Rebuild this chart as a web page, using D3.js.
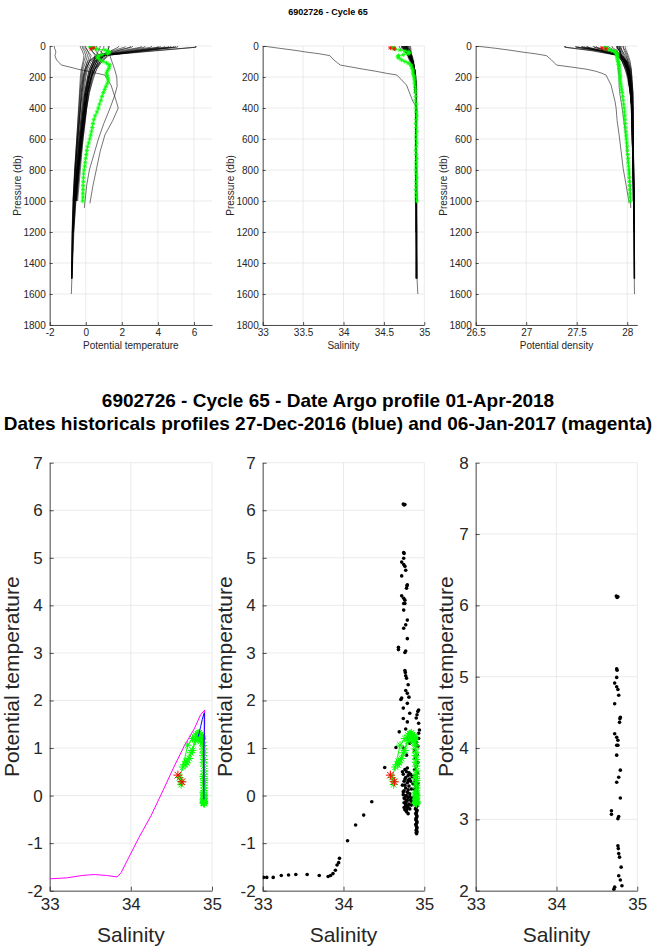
<!DOCTYPE html>
<html><head><meta charset="utf-8">
<script src="https://cdn.jsdelivr.net/npm/d3@7"></script>
<style>body{margin:0;background:#fff} svg{display:block} text{font-family:"Liberation Sans",Arial,Helvetica,sans-serif}</style>
</head><body><svg id="c" width="656" height="950"></svg>
<script>
// ---------------- DATA ----------------
const topTitle = "6902726 - Cycle 65";
const bottomTitle1 = "6902726 - Cycle 65 - Date Argo profile 01-Apr-2018";
const bottomTitle2 = "Dates historicals profiles 27-Dec-2016 (blue) and 06-Jan-2017 (magenta)";

const presTicks = [0,200,400,600,800,1000,1200,1400,1600,1800];
const tempTicksTop = [-2,0,2,4,6];
const salTicksTop = [33,33.5,34,34.5,35];
const densTicks = [26.5,27,27.5,28];
const salTicksBottom = [33,34,35];
const tempTicksBottom = [-2,-1,0,1,2,3,4,5,6,7];
const tempTicksZoom = [2,3,4,5,6,7,8];

// historical profiles (pressure levels shared, each profile truncated at its own depth)
const histLevels = [0, 8, 30, 60, 100, 150, 200, 300, 400, 600, 800, 1000, 1200, 1500, 1600];
const histTemp = [
[6.1, 6.1, 4.0, 1.1, 0.6, 0.4, 0.3, 0.1, 0.0, -0.2, -0.35, -0.5],
[6.12, 6.1, 3.8, 0.9, 0.7, 0.5, 0.35, 0.15, 0.05, -0.15, -0.3, -0.45],
[5.1, 5.08, 3.4, 1.0, 0.5, 0.3, 0.2, 0.0, -0.1, -0.3, -0.45, -0.58, -0.68, -0.78],
[4.9, 4.85, 3.3, 1.2, 0.8, 0.6, 0.4, 0.2, 0.05, -0.2, -0.4, -0.55],
[4.72, 4.7, 3.2, 1.3, 0.9, 0.5, 0.3, 0.1, -0.05, -0.25, -0.42, -0.6, -0.7, -0.77, -0.8],
[4.4, 4.35, 2.9, 0.9, 0.4, 0.2, 0.1, -0.05, -0.15, -0.35, -0.5, -0.62],
[4.15, 4.1, 2.7, 0.8, 0.3, 0.1, 0.0, -0.1, -0.2, -0.38, -0.52, -0.64, -0.72, -0.78],
[4.03, 4.0, 2.6, 1.0, 0.6, 0.4, 0.25, 0.05, -0.05, -0.25, -0.43, -0.58],
[3.68, 3.6, 2.4, 0.7, 0.2, 0.0, -0.1, -0.2, -0.28, -0.42, -0.55, -0.66, -0.73],
[3.1, 3.05, 2.0, 0.6, 0.1, -0.05, -0.15, -0.25, -0.3, -0.45, -0.58, -0.68, -0.74, -0.78],
[2.62, 2.55, 1.8, 1.1, 0.7, 0.5, 0.3, 0.1, -0.05, -0.25, -0.42, -0.56],
[2.22, 2.15, 1.5, 0.9, 0.5, 0.3, 0.15, 0.0, -0.1, -0.3, -0.46, -0.6, -0.7, -0.77],
[1.84, 1.8, 1.4, 1.2, 0.9, 0.6, 0.45, 0.2, 0.05, -0.15, -0.35, -0.5],
[5.0, 4.95, 3.0, 0.7, 0.4, 0.25, 0.15, -0.05, -0.15, -0.33, -0.48, -0.6],
[3.3, 3.25, 2.2, 1.0, 0.5, 0.3, 0.15, 0.0, -0.1, -0.3, -0.47, -0.6, -0.7],
[2.5, 2.45, 1.7, 0.6, 0.2, 0.05, -0.05, -0.15, -0.22, -0.38, -0.52, -0.64],
[4.6, 4.55, 3.0, 1.1, 0.6, 0.35, 0.2, 0.05, -0.05, -0.25, -0.42, -0.57],
[0.0, 0.0, 0.1, 0.3, 0.2, 0.0, -0.1, -0.2, -0.3, -0.45, -0.57, -0.67, -0.73, -0.78],
[-0.15, -0.15, 0.0, 0.1, 0.0, -0.15, -0.2, -0.3, -0.35, -0.48, -0.6, -0.7, -0.75, -0.79],
[0.3, 0.3, 0.35, 0.5, 0.45, 0.3, 0.2, 0.05, -0.05, -0.25, -0.42, -0.56],
[0.5, 0.5, 0.55, 0.7, 0.6, 0.4, 0.3, 0.1, 0.0, -0.2, -0.38, -0.53],
[-0.3, -0.3, -0.2, -0.1, -0.15, -0.25, -0.3, -0.35, -0.4, -0.5, -0.62, -0.71, -0.76, -0.79],
[0.2, 0.2, 0.3, 0.6, 0.8, 0.5, 0.3, 0.1, -0.05, -0.28, -0.45, -0.6],
[1.0, 1.0, 0.9, 0.8, 0.5, 0.3, 0.2, 0.0, -0.1, -0.3, -0.48, -0.62, -0.72],
[-0.05, -0.05, 0.1, 0.2, 0.1, -0.05, -0.15, -0.25, -0.32, -0.45, -0.58, -0.68, -0.74, -0.78],
[0.8, 0.8, 0.7, 0.6, 0.4, 0.2, 0.1, -0.05, -0.15, -0.33, -0.5, -0.63],
[1.3, 1.3, 1.2, 1.0, 0.7, 0.45, 0.3, 0.1, 0.0, -0.2, -0.4, -0.55, -0.68],
[-0.2, -0.2, -0.1, 0.0, -0.1, -0.2, -0.25, -0.32, -0.38, -0.5, -0.61, -0.7],
[0.6, 0.6, 0.8, 1.0, 0.8, 0.5, 0.35, 0.15, 0.02, -0.2, -0.4, -0.55, -0.66, -0.76]
];
const histSal = [
[34.75, 34.75, 34.77, 34.8, 34.83, 34.86, 34.88, 34.89, 34.9, 34.9, 34.9, 34.9],
[34.76, 34.76, 34.78, 34.79, 34.82, 34.85, 34.87, 34.89, 34.9, 34.9, 34.91, 34.91],
[34.74, 34.74, 34.77, 34.8, 34.84, 34.87, 34.88, 34.89, 34.9, 34.9, 34.9, 34.91, 34.91, 34.91],
[34.78, 34.78, 34.79, 34.81, 34.84, 34.86, 34.88, 34.89, 34.9, 34.9, 34.9, 34.9],
[34.77, 34.77, 34.79, 34.81, 34.85, 34.87, 34.88, 34.89, 34.9, 34.9, 34.9, 34.9, 34.91, 34.91, 34.92],
[34.73, 34.73, 34.76, 34.8, 34.84, 34.86, 34.88, 34.89, 34.9, 34.9, 34.9, 34.9],
[34.75, 34.75, 34.77, 34.8, 34.85, 34.87, 34.88, 34.89, 34.9, 34.9, 34.9, 34.9, 34.9, 34.91],
[34.72, 34.72, 34.76, 34.8, 34.84, 34.86, 34.88, 34.89, 34.9, 34.9, 34.9, 34.9],
[34.77, 34.77, 34.79, 34.82, 34.85, 34.87, 34.88, 34.89, 34.9, 34.9, 34.9, 34.9, 34.9],
[34.69, 34.69, 34.74, 34.8, 34.84, 34.87, 34.88, 34.89, 34.9, 34.9, 34.9, 34.9, 34.9, 34.9],
[34.78, 34.78, 34.8, 34.82, 34.85, 34.87, 34.88, 34.89, 34.9, 34.9, 34.9, 34.9],
[34.79, 34.79, 34.8, 34.83, 34.86, 34.88, 34.89, 34.9, 34.9, 34.9, 34.9, 34.9, 34.9, 34.9],
[34.8, 34.8, 34.82, 34.84, 34.86, 34.88, 34.89, 34.9, 34.9, 34.9, 34.9, 34.9],
[34.74, 34.74, 34.77, 34.8, 34.84, 34.87, 34.88, 34.89, 34.9, 34.9, 34.9, 34.9],
[34.76, 34.76, 34.78, 34.81, 34.85, 34.87, 34.88, 34.89, 34.9, 34.9, 34.9, 34.9, 34.9],
[34.77, 34.77, 34.79, 34.82, 34.86, 34.88, 34.89, 34.9, 34.9, 34.9, 34.9, 34.9],
[34.72, 34.72, 34.76, 34.8, 34.84, 34.87, 34.88, 34.89, 34.9, 34.9, 34.9, 34.9],
[34.76, 34.76, 34.78, 34.82, 34.85, 34.87, 34.88, 34.89, 34.9, 34.9, 34.9, 34.9, 34.9, 34.91],
[34.78, 34.78, 34.8, 34.83, 34.86, 34.88, 34.89, 34.9, 34.9, 34.9, 34.9, 34.9, 34.9, 34.9],
[34.73, 34.73, 34.76, 34.8, 34.84, 34.87, 34.88, 34.89, 34.9, 34.9, 34.9, 34.9],
[34.75, 34.75, 34.77, 34.81, 34.85, 34.87, 34.88, 34.89, 34.9, 34.9, 34.9, 34.9],
[34.8, 34.8, 34.82, 34.85, 34.87, 34.88, 34.89, 34.9, 34.9, 34.9, 34.9, 34.9, 34.9, 34.9],
[34.74, 34.74, 34.77, 34.8, 34.84, 34.86, 34.88, 34.89, 34.9, 34.9, 34.9, 34.9],
[34.81, 34.81, 34.82, 34.84, 34.86, 34.88, 34.89, 34.9, 34.9, 34.9, 34.9, 34.9, 34.9],
[34.77, 34.77, 34.79, 34.83, 34.86, 34.88, 34.89, 34.9, 34.9, 34.9, 34.9, 34.9, 34.9, 34.9],
[34.79, 34.79, 34.8, 34.82, 34.85, 34.87, 34.88, 34.89, 34.9, 34.9, 34.9, 34.9],
[34.82, 34.82, 34.83, 34.84, 34.86, 34.88, 34.89, 34.9, 34.9, 34.9, 34.9, 34.9, 34.9],
[34.79, 34.79, 34.81, 34.84, 34.86, 34.88, 34.89, 34.9, 34.9, 34.9, 34.9, 34.9],
[34.77, 34.77, 34.8, 34.83, 34.86, 34.88, 34.89, 34.9, 34.9, 34.9, 34.9, 34.9, 34.9, 34.9]
];
const histDens = [
[27.38, 27.38, 27.64, 27.90, 27.96, 27.99, 28.01, 28.03, 28.045, 28.05, 28.055, 28.06],
[27.39, 27.39, 27.67, 27.91, 27.95, 27.98, 28.00, 28.03, 28.04, 28.05, 28.06, 28.07],
[27.49, 27.49, 27.70, 27.91, 27.97, 28.01, 28.02, 28.04, 28.05, 28.055, 28.06, 28.065, 28.065, 28.07],
[27.55, 27.55, 27.72, 27.90, 27.95, 27.98, 28.01, 28.03, 28.04, 28.05, 28.06, 28.06],
[27.56, 27.56, 27.73, 27.90, 27.96, 28.00, 28.01, 28.03, 28.047, 28.053, 28.06, 28.065, 28.07, 28.07, 28.072],
[27.57, 27.58, 27.74, 27.92, 27.98, 28.00, 28.02, 28.04, 28.05, 28.057, 28.06, 28.065],
[27.61, 27.61, 27.76, 27.92, 27.99, 28.02, 28.03, 28.04, 28.05, 28.058, 28.062, 28.066, 28.07, 28.072],
[27.60, 27.60, 27.76, 27.91, 27.97, 27.99, 28.02, 28.035, 28.047, 28.053, 28.06, 28.064],
[27.67, 27.68, 27.80, 27.95, 28.00, 28.02, 28.03, 28.04, 28.055, 28.06, 28.063, 28.066, 28.07],
[27.66, 27.67, 27.79, 27.94, 27.99, 28.02, 28.035, 28.045, 28.055, 28.06, 28.064, 28.068, 28.07, 28.072],
[27.78, 27.78, 27.86, 27.92, 27.97, 28.00, 28.01, 28.03, 28.047, 28.053, 28.06, 28.063],
[27.81, 27.82, 27.88, 27.94, 27.99, 28.01, 28.03, 28.045, 28.05, 28.055, 28.06, 28.065, 28.07, 28.07],
[27.85, 27.85, 27.90, 27.93, 27.96, 28.00, 28.015, 28.035, 28.043, 28.05, 28.057, 28.06],
[27.50, 27.50, 27.74, 27.94, 27.99, 28.01, 28.03, 28.04, 28.05, 28.057, 28.061, 28.065],
[27.69, 27.70, 27.80, 27.92, 27.98, 28.01, 28.03, 28.04, 28.05, 28.055, 28.06, 28.065, 28.07],
[27.78, 27.78, 27.86, 27.95, 28.00, 28.03, 28.04, 28.05, 28.05, 28.058, 28.062, 28.066],
[27.51, 27.52, 27.72, 27.91, 27.97, 28.00, 28.02, 28.035, 28.047, 28.053, 28.06, 28.063],
[27.93, 27.93, 27.95, 27.97, 28.00, 28.02, 28.03, 28.04, 28.055, 28.06, 28.063, 28.067, 28.07, 28.075],
[27.96, 27.96, 27.97, 27.99, 28.01, 28.035, 28.04, 28.055, 28.057, 28.06, 28.065, 28.07, 28.07, 28.072],
[27.90, 27.90, 27.92, 27.94, 27.98, 28.01, 28.02, 28.035, 28.047, 28.053, 28.06, 28.063],
[27.90, 27.90, 27.92, 27.94, 27.98, 28.00, 28.015, 28.03, 28.045, 28.05, 28.058, 28.062],
[27.98, 27.98, 27.99, 28.01, 28.03, 28.04, 28.047, 28.057, 28.06, 28.06, 28.065, 28.07, 28.07, 28.072],
[27.91, 27.91, 27.93, 27.94, 27.95, 27.99, 28.01, 28.03, 28.047, 28.055, 28.06, 28.065],
[27.92, 27.92, 27.93, 27.95, 27.99, 28.01, 28.027, 28.045, 28.05, 28.055, 28.06, 28.065, 28.07],
[27.94, 27.94, 27.95, 27.98, 28.01, 28.03, 28.04, 28.053, 28.056, 28.06, 28.064, 28.068, 28.07, 28.072],
[27.93, 27.93, 27.94, 27.96, 27.99, 28.02, 28.03, 28.045, 28.05, 28.057, 28.062, 28.066],
[27.90, 27.90, 27.92, 27.94, 27.97, 28.00, 28.02, 28.035, 28.045, 28.05, 28.06, 28.064, 28.07],
[27.96, 27.96, 27.98, 28.00, 28.02, 28.04, 28.045, 28.056, 28.058, 28.06, 28.064, 28.07],
[27.92, 27.92, 27.93, 27.94, 27.97, 28.00, 28.02, 28.035, 28.045, 28.05, 28.06, 28.064, 28.068, 28.07]
];

// historical profile 06-Jan-2017 (magenta)
const magentaPres = [0, 15, 28, 40, 50, 62, 90, 123, 136, 150, 163, 176, 187, 252, 359, 400, 480, 574, 680, 790, 900, 1015];
const magentaTemp = [-1.75, -1.73, -1.68, -1.66, -1.68, -1.71, -1.62, -1.35, -0.88, -0.42, 0.12, 0.6, 1.05, 1.4, 1.7, 1.8, 1.5, 1.06, 0.8, 0.6, 0.4, 0.23];
const magentaSal = [33.0, 33.21, 33.4, 33.55, 33.7, 33.83, 33.88, 33.96, 34.1, 34.25, 34.4, 34.53, 34.66, 34.78, 34.86, 34.91, 34.91, 34.9, 34.9, 34.9, 34.9, 34.9];
const magentaDens = [26.5, 26.7, 26.85, 26.97, 27.09, 27.2, 27.25, 27.3, 27.45, 27.6, 27.69, 27.75, 27.79, 27.84, 27.88, 27.89, 27.9, 27.92, 27.94, 27.96, 27.99, 28.02];

// historical profile 27-Dec-2016 (blue)
const bluePres = [0, 50, 100, 150, 200, 260, 320, 400, 500, 600, 700, 800, 900, 1045];
const blueTemp = [1.24, 1.3, 1.45, 1.6, 1.72, 1.74, 1.6, 1.35, 1.0, 0.7, 0.45, 0.2, 0.05, -0.08];
const blueSal = [34.83, 34.84, 34.86, 34.88, 34.9, 34.905, 34.905, 34.905, 34.9, 34.9, 34.9, 34.9, 34.9, 34.9];
const blueDens = [27.90, 27.90, 27.91, 27.91, 27.92, 27.92, 27.93, 27.95, 27.97, 27.99, 28.0, 28.02, 28.03, 28.035];

// Argo profile (green)
const argoPres = [4,10,15,20,26,32,38,44,50,56,62,70,79,90,100,110,120,130,145,160,175,190,205,220,240,260,280,300,325,350,375,400,425,450,475,500,525,550,575,600,625,650,675,700,725,750,775,800,825,850,875,900,925,950,975,1000];
const argoTemp = [0.23,0.3,0.38,0.6,1.06,1.2,1.27,1.3,1.2,0.9, 0.72,0.65,0.69,0.78,0.95,1.15,1.3,1.32,1.28,1.2, 1.15,1.18,1.22,1.25,1.2,1.12,1.05,0.98,0.9,0.84, 0.76,0.7,0.62,0.52,0.45,0.4,0.36,0.32,0.27,0.22, 0.16,0.1,0.06,0.03,0.0,-0.03,-0.06,-0.09,-0.12,-0.13, -0.14,-0.15,-0.15,-0.16,-0.16,-0.17];
const argoSal = [34.62,34.62,34.6,34.64,34.7,34.76,34.8,34.82,34.8,34.74, 34.68,34.67,34.69,34.72,34.76,34.8,34.83,34.84,34.85,34.86, 34.86,34.87,34.875,34.88,34.88,34.885,34.89,34.89,34.895,34.89, 34.9,34.895,34.9,34.905,34.9,34.895,34.9,34.905,34.9,34.9, 34.905,34.9,34.895,34.9,34.905,34.9,34.9,34.895,34.9,34.905, 34.9,34.9,34.895,34.9,34.9,34.905];
const argoDens = [27.79,27.79,27.78,27.8,27.83,27.86,27.88,27.89,27.895,27.9, 27.9,27.9,27.905,27.905,27.91,27.915,27.915,27.92,27.92,27.925, 27.925,27.93,27.93,27.93,27.935,27.94,27.945,27.95,27.955,27.96, 27.965,27.97,27.972,27.975,27.978,27.98,27.983,27.986,27.99,27.993, 27.996,28.0,28.002,28.005,28.008,28.01,28.013,28.015,28.018,28.02, 28.022,28.024,28.026,28.028,28.029,28.03];

// flagged Argo points (red)
const flagPres = [12, 18];
const flagTemp = [0.43, 0.29];
const flagSal = [34.58, 34.63];
const flagDens = [27.75, 27.79];

// all historical theta/S points [salinity, potential temperature]
const histDots = [
[33.01,-1.72],[33.05,-1.72],[33.13,-1.72],[33.23,-1.68],[33.32,-1.67],[33.41,-1.66],[33.55,-1.66],[33.70,-1.68],[33.81,-1.70],[33.84,-1.68],[33.87,-1.64],[33.90,-1.57],[33.92,-1.46],[33.94,-1.41],[33.95,-1.32],[34.05,-0.95],[34.15,-0.62],[34.25,-0.41],[34.35,-0.13],[34.51,0.59],[34.65,1.01],
[34.74,6.13],[34.76,6.12],[34.75,6.11],
[34.745,5.11],[34.75,5.09],[34.745,4.99],[34.72,4.91],[34.745,4.86],[34.76,4.82],[34.77,4.74],[34.72,4.62],[34.79,4.43],[34.78,4.36],[34.785,4.41],
[34.72,4.2],[34.745,4.15],[34.76,4.11],[34.745,4.04],[34.76,4.04],[34.745,3.9],[34.79,3.69],[34.77,3.59],[34.745,3.52],[34.79,3.30],
[34.68,3.12],[34.68,3.07],[34.77,3.04],[34.76,3.01],
[34.76,2.63],[34.765,2.59],[34.77,2.52],[34.78,2.47],[34.80,2.33],[34.77,2.21],[34.79,2.15],[34.81,2.07],[34.71,2.02],
[34.72,2.05],[34.79,1.94],[34.74,1.84],[34.82,1.73],[34.93,1.80],[34.92,1.77],[34.91,1.70],[34.90,1.63],[34.79,1.55],[34.93,1.52],[34.94,1.38],[34.93,1.31],[34.69,1.34],[34.74,1.62],[34.77,1.4],[34.8,1.2],[34.74,1.0],[34.78,0.85],[34.82,1.1],
[34.905,-0.80],[34.90,-0.78],[34.91,-0.76],[34.90,-0.73],[34.905,-0.70],[34.91,-0.67],[34.90,-0.64],[34.895,-0.61],[34.905,-0.58],[34.91,-0.55],[34.90,-0.52],[34.895,-0.49],[34.905,-0.46],[34.91,-0.43],[34.90,-0.40],[34.895,-0.37],[34.905,-0.34],[34.91,-0.31],[34.89,-0.28],[34.90,-0.25],[34.91,-0.22],[34.895,-0.19],[34.905,-0.16],[34.89,-0.13],[34.91,-0.10],[34.90,-0.07],[34.885,-0.04],[34.905,-0.01],[34.915,0.02],[34.89,0.05],[34.90,0.09],[34.88,0.13],[34.91,0.17],[34.895,0.21],[34.92,0.26],[34.885,0.31],[34.905,0.36],[34.89,0.42],[34.915,0.48],[34.88,0.55],[34.9,0.62],[34.92,0.7],[34.89,0.78],[34.91,0.86],[34.88,0.95],[34.92,1.04],[34.9,1.12],[34.93,1.2],
[34.76,0.55],[34.78,0.5],[34.74,0.45],[34.8,0.42],[34.77,0.38],[34.82,0.35],[34.75,0.3],[34.79,0.27],[34.73,0.22],[34.81,0.2],[34.77,0.16],[34.84,0.14],[34.75,0.1],[34.79,0.07],[34.82,0.04],[34.74,0.02],[34.77,-0.01],[34.8,-0.04],[34.76,-0.07],[34.83,-0.09],[34.78,-0.12],[34.75,-0.15],[34.81,-0.18],[34.77,-0.21],[34.79,-0.25],[34.76,-0.3],[34.78,-0.34],[34.8,-0.38],[34.85,-0.05],[34.86,0.25],[34.84,-0.2],[34.85,0.4],
[34.73,0.5],[34.79,0.58],[34.81,0.48],[34.83,0.3],[34.76,0.22],[34.8,0.12],[34.74,0.08],[34.78,0.0],[34.82,-0.02],[34.75,-0.05],[34.79,-0.1],[34.84,-0.12],[34.77,-0.17],[34.8,-0.22],[34.75,-0.25],[34.82,-0.28],[34.78,-0.3],[34.83,0.45],[34.76,0.35],[34.8,0.32]
];

// ---------------- DRAWING ----------------
const svg = d3.select('#c');
const AX = '#262626', GRID = '#e2e2e2';
const GREEN = '#00ff00', RED = '#ff0000', MAG = '#ff00ff', BLUE = '#0000ff';
const cols = [[49.7,212],[262.7,424.3],[475.7,637.3]];
let clipN = 0;

function panel(o){
  const x = d3.scaleLinear().domain(o.xd).range([o.x0,o.x1]);
  const y = d3.scaleLinear().domain(o.yd).range([o.y0,o.y1]);
  const g = svg.append('g');
  const yTop = Math.min(o.y0,o.y1), yBot = Math.max(o.y0,o.y1);
  g.append('g').selectAll('line').data(o.xt).join('line')
    .attr('x1',d=>x(d)).attr('x2',d=>x(d)).attr('y1',yTop).attr('y2',yBot)
    .attr('stroke',GRID).attr('stroke-width',0.7);
  g.append('g').selectAll('line').data(o.yt).join('line')
    .attr('x1',o.x0).attr('x2',o.x1).attr('y1',d=>y(d)).attr('y2',d=>y(d))
    .attr('stroke',GRID).attr('stroke-width',0.7);
  const xa = g.append('g').attr('transform',`translate(0,${yBot})`)
    .call(d3.axisBottom(x).tickValues(o.xt).tickFormat(d=>String(d)).tickSizeInner(-o.tick).tickSizeOuter(0).tickPadding(o.xpad));
  const ya = g.append('g').attr('transform',`translate(${o.x0},0)`)
    .call(d3.axisLeft(y).tickValues(o.yt).tickFormat(d=>String(d)).tickSizeInner(-o.tick).tickSizeOuter(0).tickPadding(o.ypad));
  [xa,ya].forEach(a=>{
    a.select('.domain').attr('stroke',AX).attr('stroke-width',0.8);
    a.selectAll('.tick line').attr('stroke',AX).attr('stroke-width',0.8);
    a.selectAll('.tick text').attr('fill',AX).attr('font-size',o.fs).attr('font-family','"Liberation Sans",Arial,sans-serif');
  });
  g.append('text').attr('x',(o.x0+o.x1)/2).attr('y',o.xlY).attr('text-anchor','middle')
    .attr('font-size',o.lfs).attr('fill',AX).text(o.xl);
  g.append('text').attr('transform',`translate(${o.ylX},${(yTop+yBot)/2}) rotate(-90)`).attr('dy','0.35em')
    .attr('text-anchor','middle').attr('font-size',o.lfs).attr('fill',AX).text(o.yl);
  const id = 'clip'+(clipN++);
  svg.append('clipPath').attr('id',id).append('rect')
    .attr('x',o.x0).attr('y',yTop).attr('width',o.x1-o.x0).attr('height',yBot-yTop);
  const plot = svg.append('g').attr('clip-path',`url(#${id})`);
  return {x,y,plot};
}

function star(r){
  const a = r*0.72;
  return `M${-r},0L${r},0M0,${-r}L0,${r}M${-a},${-a}L${a},${a}M${-a},${a}L${a},${-a}`;
}

// ---- titles ----
svg.append('text').attr('x',328).attr('y',15).attr('text-anchor','middle')
  .attr('font-size',9).attr('font-weight','bold').attr('fill','#000').text(topTitle);
svg.append('text').attr('x',328).attr('y',407).attr('text-anchor','middle')
  .attr('font-size',19).attr('font-weight','bold').attr('fill','#000').text(bottomTitle1);
svg.append('text').attr('x',328).attr('y',430).attr('text-anchor','middle')
  .attr('font-size',19).attr('font-weight','bold').attr('fill','#000').text(bottomTitle2);

// ---- top panels: property vs pressure ----
const topVars = [
  {xd:[-2,7], xt:tempTicksTop, xl:'Potential temperature', hist:histTemp, mag:magentaTemp, blu:blueTemp, argo:argoTemp, flag:flagTemp},
  {xd:[33,35], xt:salTicksTop, xl:'Salinity', hist:histSal, mag:magentaSal, blu:blueSal, argo:argoSal, flag:flagSal},
  {xd:[26.5,28.1], xt:densTicks, xl:'Potential density', hist:histDens, mag:magentaDens, blu:blueDens, argo:argoDens, flag:flagDens}
];
topVars.forEach((v,i)=>{
  const p = panel({x0:cols[i][0], x1:cols[i][1], y0:46, y1:325, xd:v.xd, yd:[0,1800],
    xt:v.xt, yt:presTicks, fs:10, lfs:10, tick:3, xpad:4, ypad:4,
    xl:v.xl, yl:'Pressure (db)', xlY:349, ylX:cols[i][0]-32});
  const line = d3.line().x(d=>p.x(d[0])).y(d=>p.y(d[1]));
  const profiles = v.hist.map(arr=>arr.map((val,k)=>[val,histLevels[k]]));
  profiles.push(v.mag.map((val,k)=>[val,magentaPres[k]]));
  profiles.push(v.blu.map((val,k)=>[val,bluePres[k]]));
  p.plot.selectAll('path.h').data(profiles).join('path').attr('class','h')
    .attr('d',line).attr('fill','none').attr('stroke','#000').attr('stroke-width',0.55);
  const ag = v.argo.map((val,k)=>[val,argoPres[k]]);
  p.plot.append('path').attr('d',line(ag)).attr('fill','none').attr('stroke',GREEN).attr('stroke-width',0.8);
  p.plot.selectAll('path.ga').data(ag).join('path').attr('class','ga')
    .attr('transform',d=>`translate(${p.x(d[0])},${p.y(d[1])})`).attr('d',star(2.2))
    .attr('stroke',GREEN).attr('stroke-width',0.8).attr('fill','none');
  const fl = v.flag.map((val,k)=>[val,flagPres[k]]);
  p.plot.selectAll('path.fl').data(fl).join('path').attr('class','fl')
    .attr('transform',d=>`translate(${p.x(d[0])},${p.y(d[1])})`).attr('d',star(2.2))
    .attr('stroke',RED).attr('stroke-width',0.8).attr('fill','none');
});

// ---- bottom panels: theta/S ----
const argoTS = argoSal.map((s,k)=>[s,argoTemp[k]]);
const flagTS = flagSal.map((s,k)=>[s,flagTemp[k]]);
function drawArgo(p){
  const line = d3.line().x(d=>p.x(d[0])).y(d=>p.y(d[1]));
  p.plot.append('path').attr('d',line(argoTS)).attr('fill','none').attr('stroke',GREEN).attr('stroke-width',1);
  p.plot.selectAll('path.ga').data(argoTS).join('path').attr('class','ga')
    .attr('transform',d=>`translate(${p.x(d[0])},${p.y(d[1])})`).attr('d',star(4))
    .attr('stroke',GREEN).attr('stroke-width',1).attr('fill','none');
}
function drawFlag(p){
  p.plot.selectAll('path.fl').data(flagTS).join('path').attr('class','fl')
    .attr('transform',d=>`translate(${p.x(d[0])},${p.y(d[1])})`).attr('d',star(4.5))
    .attr('stroke',RED).attr('stroke-width',1).attr('fill','none');
}
const bot = {y0:890.7, y1:462.7, xd:[33,35], xt:salTicksBottom, fs:17, lfs:21, tick:4, xpad:7, ypad:7,
  xl:'Salinity', yl:'Potential temperature', xlY:942};

{
  const p = panel(Object.assign({}, bot, {x0:cols[0][0], x1:cols[0][1], yd:[-2,7], yt:tempTicksBottom, ylX:12}));
  const line = d3.line().x(d=>p.x(d[0])).y(d=>p.y(d[1]));
  drawArgo(p);
  p.plot.append('path').attr('d',line(magentaSal.map((s,k)=>[s,magentaTemp[k]])))
    .attr('fill','none').attr('stroke',MAG).attr('stroke-width',1);
  p.plot.append('path').attr('d',line(blueSal.map((s,k)=>[s,blueTemp[k]])))
    .attr('fill','none').attr('stroke',BLUE).attr('stroke-width',1);
  drawFlag(p);
}
{
  const p = panel(Object.assign({}, bot, {x0:cols[1][0], x1:cols[1][1], yd:[-2,7], yt:tempTicksBottom, ylX:225}));
  p.plot.selectAll('circle').data(histDots).join('circle')
    .attr('cx',d=>p.x(d[0])).attr('cy',d=>p.y(d[1])).attr('r',1.8).attr('fill','#000');
  drawArgo(p);
  drawFlag(p);
}
{
  const p = panel(Object.assign({}, bot, {x0:cols[2][0], x1:cols[2][1], yd:[2,8], yt:tempTicksZoom, ylX:446}));
  p.plot.selectAll('circle').data(histDots).join('circle')
    .attr('cx',d=>p.x(d[0])).attr('cy',d=>p.y(d[1])).attr('r',1.8).attr('fill','#000');
}
</script></body></html>
